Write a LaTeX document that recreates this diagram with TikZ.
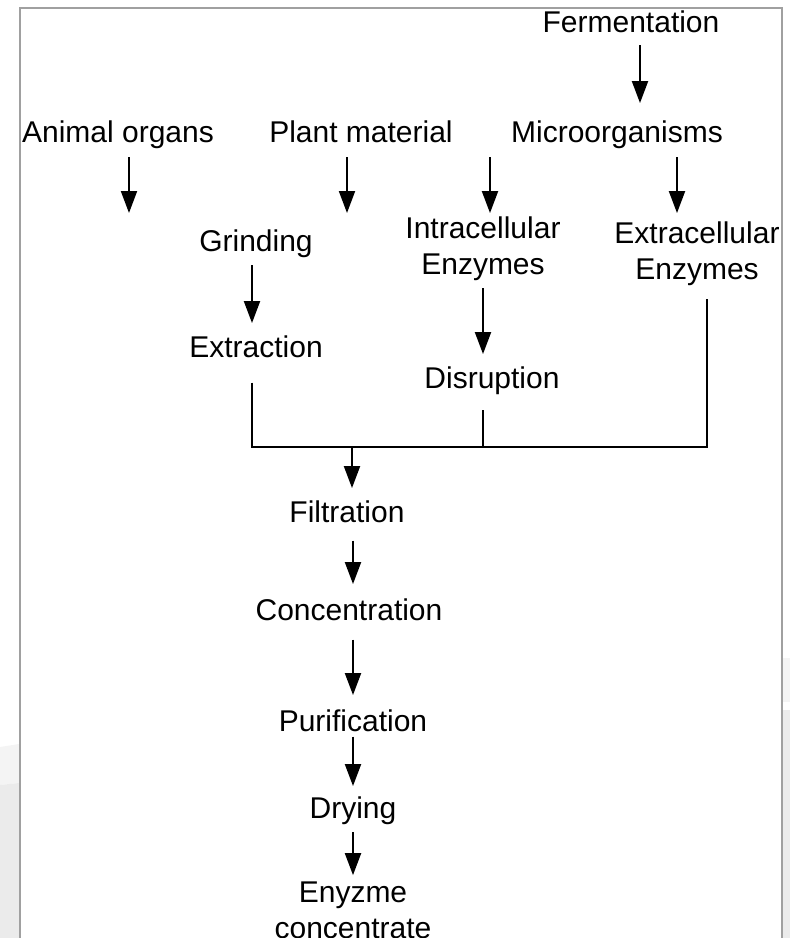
\documentclass[tikz,border=0pt]{standalone}
\usepackage{fontspec}
\setmainfont{Liberation Sans}
\usepackage{xcolor}
\usetikzlibrary{arrows.meta}
\definecolor{framegray}{RGB}{160,160,160}
\definecolor{shadegray}{RGB}{235,235,235}
\definecolor{bandgray}{RGB}{244,244,244}

\begin{document}
\begin{tikzpicture}[
    x=1pt, y=-1pt,
    lbl/.style={inner sep=0pt, anchor=base, align=center,
                font=\fontsize{30}{36}\selectfont},
    arrow/.style={-{Triangle[length=22pt,width=16pt]}, line width=2pt},
    link/.style={line width=2pt},
    outerframe/.style={draw=framegray, line width=2pt}
  ]
    \useasboundingbox (0,0) rectangle (790,938);
    \clip (0,0) rectangle (790,938);

    % faint background outside the frame
    \fill[bandgray] (0,747) -- (19,744) -- (19,783) -- (0,785) -- cycle;
    \fill[shadegray] (0,785) -- (19,783) -- (19,938) -- (0,938) -- cycle;
    \fill[bandgray] (783,658) rectangle (790,702);
    \fill[shadegray] (783,710) rectangle (790,938);
    \draw[outerframe] (20,950) -- (20,8) -- (782,8) -- (782,950);

    \node[lbl] (ferm) at (631,32) {Fermentation};
    \node[lbl] (animal) at (118,142) {Animal organs};
    \node[lbl] (plant) at (361,142) {Plant material};
    \node[lbl] (micro) at (617,142) {Microorganisms};
    \node[lbl] (grind) at (256,251) {Grinding};
    \node[lbl] (intra) at (483,274) {Intracellular\\Enzymes};
    \node[lbl] (extra) at (697,279) {Extracellular\\Enzymes};
    \node[lbl] (extr) at (256,357) {Extraction};
    \node[lbl] (disr) at (492,388) {Disruption};
    \node[lbl] (filt) at (347,522) {Filtration};
    \node[lbl] (conc) at (349,620) {Concentration};
    \node[lbl] (puri) at (353,731) {Purification};
    \node[lbl] (dry) at (353,818) {Drying};
    \node[lbl] (enz) at (353,938) {Enyzme\\concentrate};

    \coordinate (animalend) at (129,213);
    \coordinate (plantend) at (347,213);
    \coordinate (bus) at (352,447);

    % sources
    \draw[arrow, shorten <=13pt, shorten >=17pt] ([xshift=9pt]ferm.south) -- ([xshift=23pt]micro.north);
    \draw[arrow, shorten <=9pt] ([xshift=11pt]animal.south) -- (animalend);
    \draw[arrow, shorten <=15pt] ([xshift=-14pt]plant.south) -- (plantend);
    \draw[arrow, shorten <=9pt, shorten >=3pt] ([xshift=-127pt]micro.south) -- ([xshift=7pt]intra.north);
    \draw[arrow, shorten <=9pt, shorten >=8pt] ([xshift=60pt]micro.south) -- ([xshift=-20pt]extra.north);
    \draw[arrow, shorten <=8pt, shorten >=12pt] ([xshift=-4pt]grind.south) -- ([xshift=-4pt]extr.north);
    \draw[arrow, shorten <=8pt, shorten >=12pt] (intra.south) -- ([xshift=-9pt]disr.north);

    % collecting line
    \draw[link] ([xshift=-4pt,yshift=-25pt]extr.south) |- (bus) -| ([xshift=10pt,yshift=-14pt]extra.south);
    \draw[link] ([xshift=-9pt,yshift=-16pt]disr.south) -- ([xshift=-9pt]disr.south |- bus);
    \draw[arrow, shorten >=12pt] (bus) -- ([xshift=5pt]filt.north);

    % downstream
    \draw[arrow, shorten <=18pt, shorten >=14pt] ([xshift=6pt]filt.south) -- ([xshift=4pt]conc.north);
    \draw[arrow, shorten <=19pt, shorten >=14pt] ([xshift=4pt]conc.south) -- (puri.north);
    \draw[arrow, shorten <=5pt, shorten >=10pt] (puri.south) -- (dry.north);
    \draw[arrow, shorten <=8pt, shorten >=6pt] (dry.south) -- (enz.north);
  \end{tikzpicture}
\end{document}
